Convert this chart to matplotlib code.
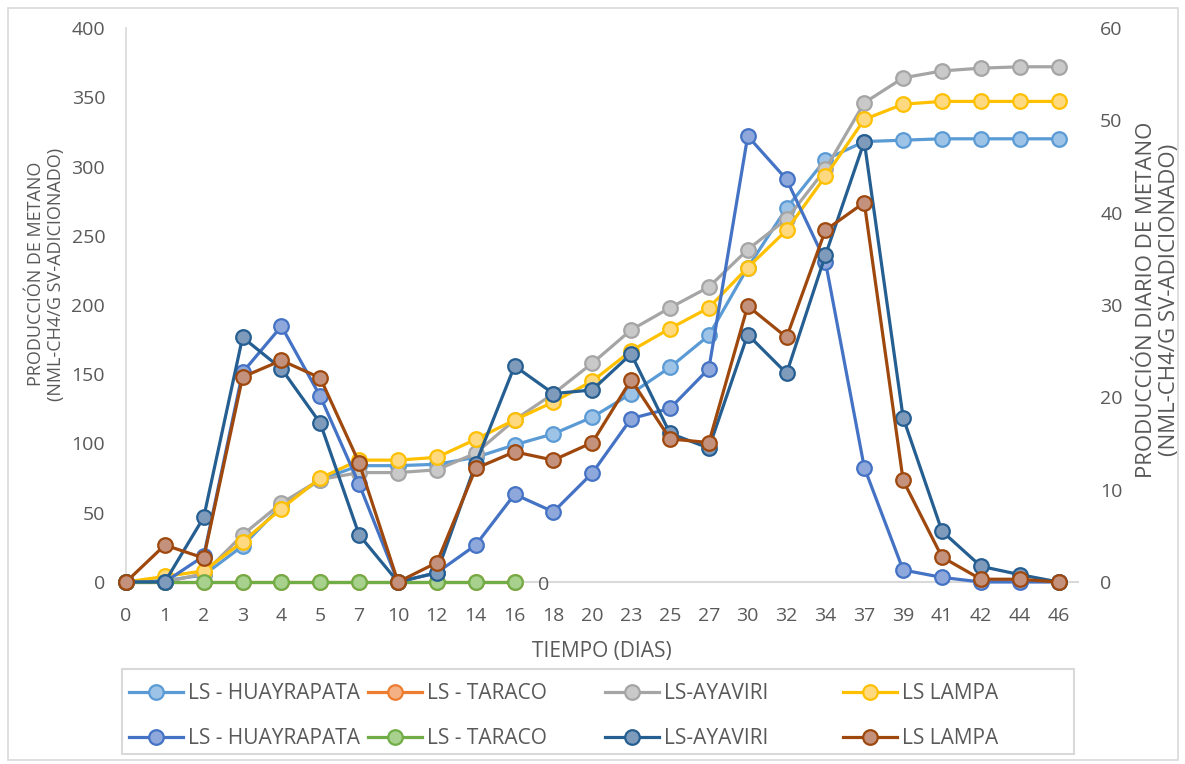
import matplotlib.pyplot as plt
from matplotlib.patches import Rectangle

plt.rcParams['font.family'] = ['Open Sans', 'DejaVu Sans']

dias = ['0', '1', '2', '3', '4', '5', '7', '10', '12', '14', '16', '18', '20', '23',
        '25', '27', '30', '32', '34', '37', '39', '41', '42', '44', '46']

# produccion acumulada (eje izquierdo)
acum_huayrapata = [0, 1, 5, 26, 55, 74, 84, 84, 85, 90, 99, 107, 119, 136, 155, 178,
                   227, 270, 305, 318, 319, 320, 320, 320, 320]
acum_taraco = [0, 0, 0, 0, 0, 0, 0, 0, 0, 0, 0]
acum_ayaviri = [0, 0, 6, 34, 57, 74, 79, 79, 81, 93, 117, 136, 158, 182, 198, 213,
                240, 262, 298, 346, 364, 369, 371, 372, 372]
acum_lampa = [0, 4, 8, 29, 53, 75, 88, 88, 90, 103, 117, 130, 145, 167, 183, 198,
              227, 254, 293, 334, 345, 347, 347, 347, 347]

# produccion diaria (eje derecho)
dia_huayrapata = [0, 0, 2.8, 22.7, 27.7, 20.1, 10.6, 0, 1.0, 4.0, 9.5, 7.6, 11.8, 17.7,
                  18.8, 23.1, 48.3, 43.6, 34.7, 12.4, 1.3, 0.5, 0, 0, 0]
dia_taraco = [0, 0, 0, 0, 0, 0, 0, 0, 0, 0, 0]
dia_ayaviri = [0, 0, 7.0, 26.5, 23.1, 17.2, 5.1, 0, 1.0, 12.8, 23.4, 20.4, 20.8, 24.7,
               16.1, 14.5, 26.8, 22.6, 35.4, 47.7, 17.8, 5.5, 1.7, 0.8, 0]
dia_lampa = [0, 4.0, 2.6, 22.2, 24.0, 22.1, 12.9, 0, 2.1, 12.3, 14.1, 13.2, 15.1, 21.9,
             15.5, 15.1, 29.9, 26.5, 38.1, 41.1, 11.0, 2.7, 0.3, 0.3, 0]

gris = '#595959'
W, H = 1185, 764
fig = plt.figure(figsize=(W / 100, H / 100), dpi=100)
ax = fig.add_axes([126 / W, 182 / H, 952 / W, 554 / H])
ax2 = ax.twinx()

x = list(range(len(dias)))


def serie(eje, y, color, cara, nombre):
    return eje.plot(x[:len(y)], y, color=color, lw=2.3, marker='o', ms=10.5,
                    mfc=cara, mec=color, mew=1.6, label=nombre, clip_on=False)[0]


h1 = serie(ax, acum_huayrapata, '#5B9BD5', '#9DC3E6', 'LS - HUAYRAPATA')
h2 = serie(ax, acum_taraco, '#ED7D31', '#F4B183', 'LS - TARACO')
h3 = serie(ax, acum_ayaviri, '#A5A5A5', '#C9C9C9', 'LS-AYAVIRI')
h4 = serie(ax, acum_lampa, '#FFC000', '#FFD97F', 'LS LAMPA')

d1 = serie(ax2, dia_huayrapata, '#4472C4', '#8FA8DC', 'LS - HUAYRAPATA')
d2 = serie(ax2, dia_taraco, '#70AD47', '#A9D18E', 'LS - TARACO')
d3 = serie(ax2, dia_ayaviri, '#255E91', '#7F9BBC', 'LS-AYAVIRI')
d4 = serie(ax2, dia_lampa, '#9E480E', '#C4927C', 'LS LAMPA')

# etiqueta del ultimo punto de TARACO
ax2.annotate('%d' % dia_taraco[-1], (len(dia_taraco) - 1, dia_taraco[-1]),
             xytext=(21, -2), textcoords='offset points', ha='center', va='center',
             fontsize=14, color=gris)

ax.set_xlim(0, 24.5)
ax.set_ylim(0, 400)
ax2.set_ylim(0, 60)
ax.set_xticks(x)
ax.set_xticklabels(dias)
ax.set_yticks(range(0, 401, 50))
ax2.set_yticks(range(0, 61, 10))

for s in ['top', 'right']:
    ax.spines[s].set_visible(False)
for s in ['top', 'right', 'left', 'bottom']:
    ax2.spines[s].set_visible(False)
ax.spines['left'].set_color('#D9D9D9')
ax.spines['bottom'].set_color('#D9D9D9')
ax.spines['left'].set_linewidth(1.2)
ax.spines['bottom'].set_linewidth(1.5)

ax.tick_params(axis='y', length=0, pad=15, labelsize=14, labelcolor=gris)
ax.tick_params(axis='x', length=0, pad=18, labelsize=14, labelcolor=gris)
ax2.tick_params(axis='y', length=0, pad=16, labelsize=14, labelcolor=gris)

fig.text(602 / W, 1 - 652 / H, 'TIEMPO (DIAS)', ha='center', va='center',
         fontsize=15, color=gris)
fig.text(46 / W, 1 - 274 / H, 'PRODUCCIÓN DE METANO\n(NML-CH4/G SV-ADICIONADO)',
         rotation=90, ha='center', va='center', fontsize=13, color=gris,
         linespacing=1.1)
fig.text(1158 / W, 1 - 300 / H,
         'PRODUCCIÓN DIARIO DE METANO\n(NML-CH4/G SV-ADICIONADO)',
         rotation=90, ha='center', va='center', fontsize=16, color=gris,
         linespacing=1.15)

# leyenda: una columna por muestra, acumulada arriba y diaria abajo
columnas = [(h1, d1), (h2, d2), (h3, d3), (h4, d4)]
x_col = [129, 368, 605, 843]
for (a, b), xc in zip(columnas, x_col):
    leg = fig.legend(handles=[a, b], loc='upper left',
                     bbox_to_anchor=(xc / W, 1 - 683 / H), frameon=False,
                     fontsize=15, handlelength=2.6, handletextpad=0.25,
                     labelspacing=1.15, borderpad=0, borderaxespad=0)
    for t in leg.get_texts():
        t.set_color(gris)

fig.patches.append(Rectangle((122 / W, 1 - 754 / H), 952 / W, 85 / H,
                             transform=fig.transFigure, fill=False,
                             edgecolor='#D9D9D9', lw=1.5))

# marco exterior
fig.patches.append(Rectangle((8 / W, 4 / H), 1170 / W, 752 / H,
                             transform=fig.transFigure, fill=False,
                             edgecolor='#D9D9D9', lw=1.2))

plt.savefig('out.png', dpi=100)
